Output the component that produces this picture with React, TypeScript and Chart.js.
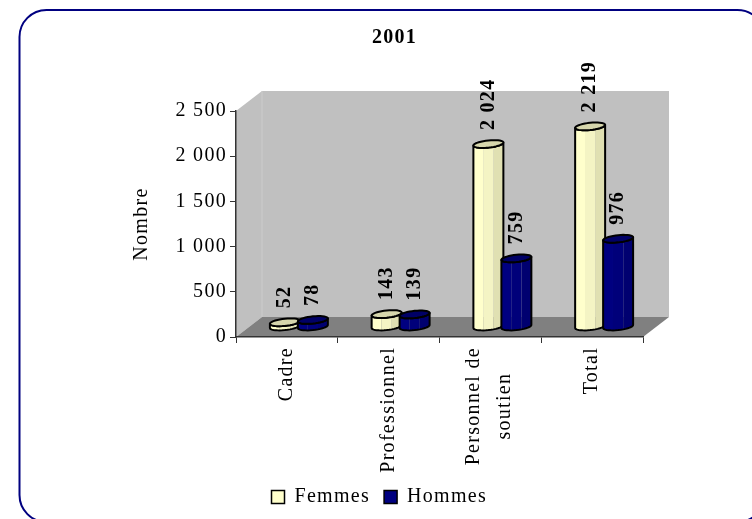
import React, { useEffect, useRef } from "react";
import { Chart, registerables, BarController, BarElement } from "chart.js";

Chart.register(...registerables);

const categories = ["Cadre", "Professionnel", ["Personnel de", "soutien"], "Total"];
const femmes = [52, 143, 2024, 2219];
const hommes = [78, 139, 759, 976];
const title = "2001";
const yTitle = "Nombre";
const FONT = '"Liberation Serif", "Times New Roman", serif';
const SPACING = "1.3px";

const DX = 26, DY = 20, SX = 12, SY = 10;

function fmt(v: number) {
  const s = String(v);
  return s.length > 3 ? s.slice(0, -3) + " " + s.slice(-3) : s;
}

const PALETTE: Record<string, { f: string[]; top: string }> = {
  "#FFFFCC": { f: ["#FFFFCC", "#F4F4C4", "#E0E0B2"], top: "#D6D6AC" },
  "#000080": { f: ["#000080", "#00007A", "#000070"], top: "#000066" },
};

class CylinderElement extends BarElement {
  static id = "cylinder";
  draw(ctx: CanvasRenderingContext2D) {
    const { x, y, base, width } = (this as any).getProps(["x", "y", "base", "width"], true) as any;
    const pal = PALETTE[(this as any).options.backgroundColor] || PALETTE["#FFFFCC"];
    const r = width / 2 + 1;
    const cx = x + SX;
    const top = y - SY;
    const bot = base - SY;
    const pt = (deg: number, cy: number): [number, number] => {
      const t = (deg * Math.PI) / 180;
      return [cx + r * Math.cos(t), cy - 3.6 * Math.sin(t) - 1.5 * Math.cos(t)];
    };
    const arc = (from: number, to: number, cy: number) => {
      const out: [number, number][] = [];
      const step = to > from ? 10 : -10;
      for (let d = from; step > 0 ? d <= to : d >= to; d += step) out.push(pt(d, cy));
      return out;
    };
    const poly = (pts: [number, number][]) => {
      ctx.beginPath();
      pts.forEach((p, i) => (i === 0 ? ctx.moveTo(p[0], p[1]) : ctx.lineTo(p[0], p[1])));
      ctx.closePath();
    };
    ctx.save();
    ctx.lineJoin = "round";
    ctx.strokeStyle = "#000";
    ctx.lineWidth = 2;
    const facets: [number, number, string][] = [
      [180, 250, pal.f[0]],
      [250, 290, pal.f[1]],
      [290, 360, pal.f[2]],
    ];
    for (const [a, b, col] of facets) {
      poly([...arc(a, b, top), ...arc(b, a, bot)]);
      ctx.fillStyle = col;
      ctx.fill();
    }
    poly([...arc(180, 360, top), ...arc(360, 180, bot)]);
    ctx.stroke();
    poly(arc(0, 350, top));
    ctx.fillStyle = pal.top;
    ctx.fill();
    ctx.stroke();
    ctx.restore();
  }
}

class CylinderController extends BarController {
  static id = "cylinder";
  static defaults = { ...(BarController as any).defaults, dataElementType: "cylinder" };
  static overrides = (BarController as any).overrides;
}
Chart.register(CylinderElement as any, CylinderController as any);

const scenePlugin = {
  id: "scene",
  afterLayout(chart: any) {
    chart.titleBlock.left += 16;
    chart.legend.left -= 15;
    chart.legend.right -= 15;
    chart.scales.x.bottom += 30;
  },
  beforeDraw(chart: any) {
    const { ctx, chartArea: a } = chart;
    ctx.letterSpacing = SPACING;
    // Two-line category label: centre both lines and spread them around the tick.
    const xScale = chart.scales.x;
    xScale.getLabelItems().forEach((item: any) => {
      if (Array.isArray(item.label) && !item.adjusted) {
        item.adjusted = true;
        ctx.save();
        ctx.font = item.font.string;
        const w = Math.max(...item.label.map((l: string) => ctx.measureText(l).width));
        ctx.restore();
        item.options.textAlign = "center";
        item.options.translation[0] -= 17;
        item.options.translation[1] += w / 2;
      }
    });
    ctx.save();
    ctx.fillStyle = "#fff";
    ctx.beginPath();
    ctx.roundRect(19.5, 10, 745, 512, 27);
    ctx.fill();
    ctx.strokeStyle = "#000080";
    ctx.lineWidth = 2;
    ctx.stroke();
    ctx.fillStyle = "#C0C0C0";
    ctx.beginPath();
    ctx.moveTo(a.left, a.top); ctx.lineTo(a.left + DX, a.top - DY); ctx.lineTo(a.right + DX, a.top - DY);
    ctx.lineTo(a.right + DX, a.bottom - DY); ctx.lineTo(a.left + DX, a.bottom - DY); ctx.lineTo(a.left, a.bottom);
    ctx.closePath(); ctx.fill();
    ctx.fillStyle = "#808080";
    ctx.beginPath();
    ctx.moveTo(a.left, a.bottom); ctx.lineTo(a.left + DX, a.bottom - DY); ctx.lineTo(a.right + DX, a.bottom - DY); ctx.lineTo(a.right, a.bottom);
    ctx.closePath(); ctx.fill();
    ctx.strokeStyle = "#CCCCCC";
    ctx.lineWidth = 1;
    ctx.beginPath();
    ctx.moveTo(a.left + DX, a.top - DY); ctx.lineTo(a.left + DX, a.bottom - DY);
    ctx.stroke();
    ctx.restore();
  },
  // Paint Femmes first, then Hommes on top, as in the original overlap.
  beforeDatasetDraw(chart: any, args: any) {
    if (args.index === 1) chart.getDatasetMeta(0).controller.draw();
    if (args.index === 0) return false;
  },
  afterDatasetsDraw(chart: any) {
    const { ctx } = chart;
    ctx.save();
    ctx.fillStyle = "#000";
    ctx.font = `bold 20px ${FONT}`;
    ctx.textAlign = "left";
    ctx.textBaseline = "middle";
    chart.data.datasets.forEach((ds: any, i: number) => {
      chart.getDatasetMeta(i).data.forEach((el: any, j: number) => {
        ctx.save();
        ctx.translate(el.x + SX, el.y - SY - 14);
        ctx.rotate(-Math.PI / 2);
        ctx.fillText(fmt(ds.data[j]), 0, 0);
        ctx.restore();
      });
    });
    ctx.restore();
  },
};

export default function App() {
  const ref = useRef<HTMLCanvasElement>(null);
  useEffect(() => {
    document.body.style.margin = "0";
    (ref.current!.getContext("2d") as any).letterSpacing = SPACING;
    const common = { borderColor: "#000", borderWidth: 1.5, categoryPercentage: 0.55, barPercentage: 1, clip: false };
    const chart = new Chart(ref.current!, {
      type: "cylinder" as any,
      data: {
        labels: categories as any,
        datasets: [
          { label: "Femmes", data: femmes, backgroundColor: "#FFFFCC", ...common } as any,
          { label: "Hommes", data: hommes, backgroundColor: "#000080", ...common } as any,
        ],
      },
      options: {
        animation: false,
        responsive: false,
        layout: { padding: { top: 26, left: 130, right: 109, bottom: 2 } },
        plugins: {
          title: { display: true, text: title, color: "#000", font: { family: FONT, size: 20, weight: "bold" }, padding: { top: 0, bottom: 61 } },
          legend: {
            display: true,
            position: "bottom",
            labels: { color: "#000", font: { family: FONT, size: 20 }, boxWidth: 13, boxHeight: 13, padding: 14 },
          },
          tooltip: { enabled: false },
        },
        scales: {
          x: {
            type: "category",
            grid: { drawOnChartArea: false, color: "#333", tickLength: 6, lineWidth: 1 },
            border: { color: "#333", width: 1.5 },
            ticks: { color: "#000", font: { family: FONT, size: 20, lineHeight: 1.55 }, minRotation: 90, maxRotation: 90, autoSkip: false, padding: 4 },
            afterFit(s: any) { s.height = 136; },
          },
          y: {
            type: "linear",
            min: 0,
            max: 2500,
            grid: { drawOnChartArea: false, color: "#333", tickLength: 6, lineWidth: 1 },
            border: { color: "#333", width: 1.5 },
            ticks: { stepSize: 500, color: "#000", font: { family: FONT, size: 20 }, padding: 3, callback: (v: any) => fmt(Number(v)) },
            title: { display: true, text: yTitle, color: "#000", font: { family: FONT, size: 20 }, padding: 0 },
            afterFit(s: any) { s.width = 106; },
          },
        },
      } as any,
      plugins: [scenePlugin],
    });
    return () => chart.destroy();
  }, []);
  return <canvas ref={ref} width={752} height={519} style={{ display: "block" }} />;
}
